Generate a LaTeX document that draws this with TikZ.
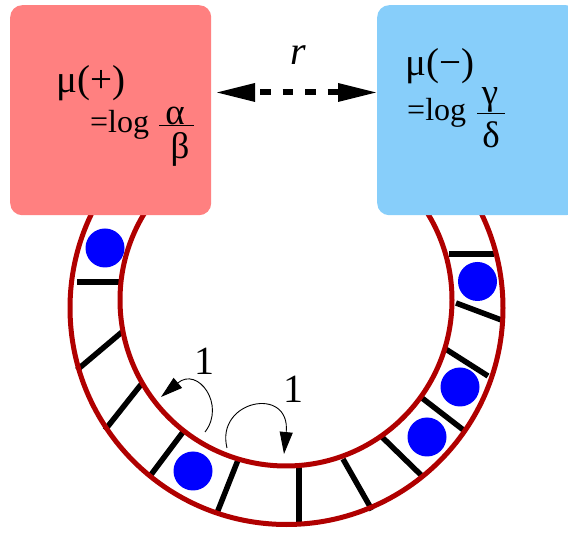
\documentclass[tikz,border=0pt]{standalone}
\usepackage{fontspec}
\setmainfont{Liberation Serif}
\usetikzlibrary{arrows.meta}
\definecolor{boxred}{RGB}{255,128,128}
\definecolor{boxblue}{RGB}{135,206,250}
\definecolor{ringred}{RGB}{176,0,0}
\definecolor{dotblue}{RGB}{0,0,255}
\tikzset{
  box/.style={draw=none, rounded corners=12pt, minimum width=201pt, minimum height=210pt, anchor=north west, inner sep=0pt},
  ring/.style={draw=ringred, line width=5pt},
  rung/.style={draw=black, line width=5.5pt},
  ball/.style={circle, fill=dotblue, inner sep=0pt, minimum size=39pt},
  lbl/.style={inner sep=0pt, anchor=base west},
  big/.style={font=\fontsize{39}{39}\selectfont},
  mid/.style={font=\fontsize{32}{32}\selectfont},
  greek/.style={font=\fontsize{37}{37}\selectfont},
  hop/.style={draw=black, line width=0.9pt, -{Triangle[length=22pt,width=13pt]}},
}
\begin{document}
\begin{tikzpicture}[x=1pt,y=-1pt]
\useasboundingbox (0,0) rectangle (568,534);
\clip (0,0) rectangle (568,534);
% rungs
\draw[rung] (77,282) -- (120,282);
\draw[rung] (77,370) -- (122,332);
\draw[rung] (105,430) -- (143,382);
\draw[rung] (150,476) -- (183,432);
\draw[rung] (217,513) -- (238,460);
\draw[rung] (299,525) -- (299,466);
\draw[rung] (343,459) -- (372,510);
\draw[rung] (382,437) -- (422,476);
\draw[rung] (422,398) -- (466,432);
\draw[rung] (444,348) -- (488,376);
\draw[rung] (456,303) -- (504,321);
\draw[rung] (449,254) -- (494,254);
% ring (open at the top, ends hidden behind the boxes)
\begin{scope}
\clip (0,205) rectangle (568,534);
\draw[ring] (286.5,308) circle[radius=216.5];
\draw[ring] (286,300) circle[radius=166];
\end{scope}
% balls
\node[ball] (b1) at (105,248) {};
\node[ball] (b2) at (193,471) {};
\node[ball] (b3) at (427,437) {};
\node[ball] (b4) at (460,387) {};
\node[ball] (b5) at (477.5,281.5) {};
% boxes
\node[box, fill=boxred] (lbox) at (10,5) {};
\node[box, fill=boxblue] (rbox) at (377,5) {};
% exchange arrow
\coordinate (al) at (217,92.5);
\coordinate (ar) at (376,92.5);
\coordinate (dl) at (260,92.5);
\coordinate (dr) at (339,92.5);
\draw[line width=6pt, dash pattern=on 10.5pt off 12pt] (dl) -- (dr);
\fill (al) -- ++(38,-9.5) -- ++(0,19) -- cycle;
\fill (ar) -- ++(-38,-9.5) -- ++(0,19) -- cycle;
\node[lbl, anchor=base, font=\fontsize{40}{40}\selectfont\itshape] (r) at (298,65) {r};
% left box text
\node[lbl, big] (mup) at (56,93) {μ(+)};
\node[lbl, mid] (eqp) at (90,133) {=log};
\node[lbl, greek, anchor=base] (alp) at (175,125) {α};
\node[lbl, greek, anchor=base] (bet) at (180,159) {β};
\draw[line width=1pt] (159,126) -- (194,126);
% right box text
\node[lbl, big] (mum) at (405,76) {μ(−)};
\node[lbl, mid] (eqm) at (407,121) {=log};
\node[lbl, greek, anchor=base] (gam) at (490,105) {γ};
\draw[line width=1pt] (477,114) -- (505,114);
\node[lbl, greek, anchor=base] (del) at (491,148) {δ};
% hopping arrows
\coordinate (h1s) at (205,432);
\coordinate (h1e) at (161,397);
\draw[hop] (h1s) .. controls (226,405) and (198,366) .. (h1e);
\coordinate (h2s) at (227,448);
\coordinate (h2e) at (284,454);
\draw[hop] (h2s) .. controls (215,400) and (291,385) .. (h2e);
\node[font=\fontsize{40}{40}\selectfont, inner sep=0pt] (one1) at (204,361) {1};
\node[font=\fontsize{40}{40}\selectfont, inner sep=0pt] (one2) at (293,389) {1};
\end{tikzpicture}
\end{document}
